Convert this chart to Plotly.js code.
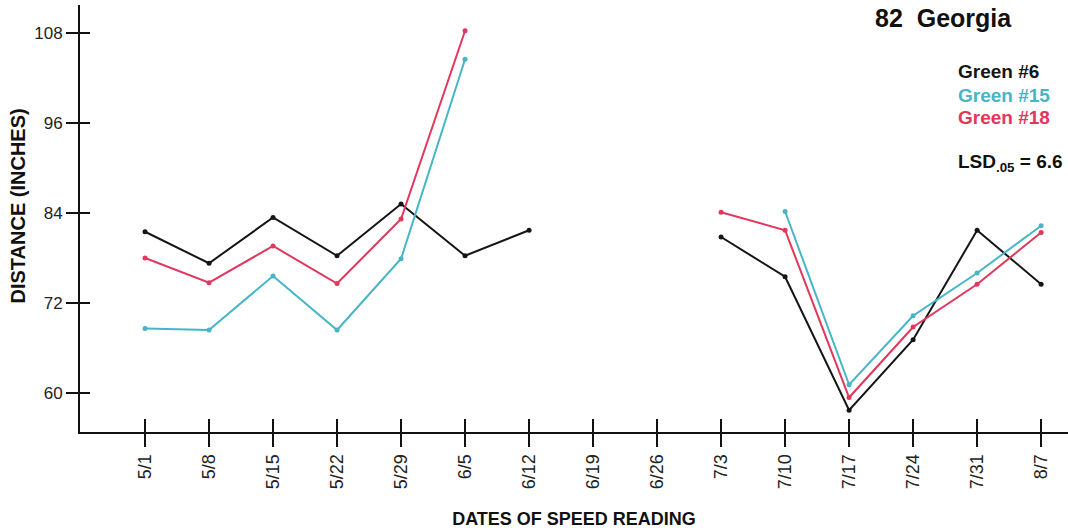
<!DOCTYPE html>
<html>
<head>
<meta charset="utf-8">
<script src="https://cdn.plot.ly/plotly-3.0.1.min.js"></script>
<style>
  html, body { margin: 0; padding: 0; background: #fff; }
  #chart { width: 1068px; height: 530px; }
</style>
</head>
<body>
<div id="chart"></div>
<script>
// Weekly speed readings, 82 Georgia
const dates = ["5/1", "5/8", "5/15", "5/22", "5/29", "6/5", "6/12", "6/19",
               "6/26", "7/3", "7/10", "7/17", "7/24", "7/31", "8/7"];

const green6  = [81.5, 77.3, 83.4, 78.3, 85.2, 78.3, 81.7, null, null, 80.8, 75.5, 57.7, 67.1, 81.7, 74.5];
const green15 = [68.6, 68.4, 75.6, 68.4, 77.9, 104.5, null, null, null, null, 84.2, 61.1, 70.3, 76.0, 82.3];
const green18 = [78.0, 74.7, 79.6, 74.6, 83.2, 108.3, null, null, null, 84.1, 81.7, 59.4, 68.8, 74.5, 81.4];

const seriesNames = ["Green #6", "Green #15", "Green #18"];
const yTicks = [60, 72, 84, 96, 108];
const lsdValue = 6.6;

const colors = ["#151515", "#45b6c6", "#e2365d"];
const FONT = "Liberation Sans, Arial, Helvetica, sans-serif";

const seriesValues = [green6, green15, green18];
const traces = seriesValues.map((vals, i) => ({
  type: "scatter",
  mode: "lines+markers",
  x: dates,
  y: vals,
  name: seriesNames[i],
  connectgaps: false,
  line: { color: colors[i], width: 2 },
  marker: { color: colors[i], size: 5 },
  showlegend: false,
  hoverinfo: "x+y+name"
}));

// empty trace so the overlaid tick axes (ticks pointing inward) get drawn,
// giving tick marks that cross both axis lines
traces.push({
  type: "scatter", mode: "markers",
  x: [], y: [],
  xaxis: "x2", yaxis: "y2",
  showlegend: false, hoverinfo: "skip"
});

const xRange = [-1.016, 14.42];
const yRange = [54.8, 111.73];

// key text in the upper right corner, one line per series
const legendY = [0.8454, 0.7892, 0.7354];
const annotations = seriesNames.map((n, i) => ({
  xref: "paper", yref: "paper",
  x: 0.8867, y: legendY[i],
  xanchor: "left", yanchor: "middle",
  showarrow: false,
  text: "<b>" + n + "</b>",
  font: { family: FONT, size: 19, color: colors[i] }
}));
annotations.push({
  xref: "paper", yref: "paper",
  x: 0.8867, y: 0.630,
  xanchor: "left", yanchor: "middle",
  showarrow: false,
  text: "<b>LSD<sub>.05</sub> = " + lsdValue.toFixed(1) + "</b>",
  font: { family: FONT, size: 19, color: "#111" }
});
// vertical axis title
annotations.push({
  xref: "paper", yref: "paper",
  x: (17.5 - 80) / 988, y: (432 - 206) / 427,
  xanchor: "center", yanchor: "middle",
  textangle: -90,
  showarrow: false,
  text: "<b>DISTANCE (INCHES)</b>",
  font: { family: FONT, size: 20, color: "#111" }
});

const layout = {
  width: 1068,
  height: 530,
  margin: { l: 80, r: 0, t: 5, b: 98 },
  paper_bgcolor: "#ffffff",
  plot_bgcolor: "#ffffff",
  font: { family: FONT, color: "#222" },
  title: {
    text: "<b>82\u00a0 Georgia</b>",
    font: { family: FONT, size: 25, color: "#111" },
    xref: "container", yref: "container",
    x: 875 / 1068, xanchor: "left",
    y: 1 - 18 / 530, yanchor: "middle"
  },
  xaxis: {
    type: "category",
    range: xRange,
    showline: true, linecolor: "#111", linewidth: 2,
    showgrid: false, zeroline: false,
    ticks: "outside", ticklen: 13, tickwidth: 2, tickcolor: "#111",
    tickangle: -90,
    tickfont: { family: FONT, size: 18, color: "#222" },
    title: {
      text: "<b>DATES OF SPEED READING</b>",
      font: { family: FONT, size: 18, color: "#111" },
      standoff: 24
    },
    fixedrange: true
  },
  xaxis2: {
    overlaying: "x", anchor: "y2",
    range: xRange,
    tickmode: "array", tickvals: dates.map((d, i) => i),
    ticks: "inside", ticklen: 13, tickwidth: 2, tickcolor: "#111",
    showticklabels: false, showline: false, showgrid: false, zeroline: false,
    fixedrange: true
  },
  yaxis: {
    range: yRange,
    tickmode: "array", tickvals: yTicks,
    showline: true, linecolor: "#111", linewidth: 2,
    showgrid: false, zeroline: false,
    ticks: "outside", ticklen: 12, tickwidth: 2, tickcolor: "#111",
    tickfont: { family: FONT, size: 17, color: "#222" },
    fixedrange: true
  },
  yaxis2: {
    overlaying: "y", anchor: "x2",
    range: yRange,
    tickmode: "array", tickvals: yTicks,
    ticks: "inside", ticklen: 10, tickwidth: 2, tickcolor: "#111",
    showticklabels: false, showline: false, showgrid: false, zeroline: false,
    fixedrange: true
  },
  annotations: annotations
};

Plotly.newPlot("chart", traces, layout, { displayModeBar: false, staticPlot: true });
</script>
</body>
</html>
